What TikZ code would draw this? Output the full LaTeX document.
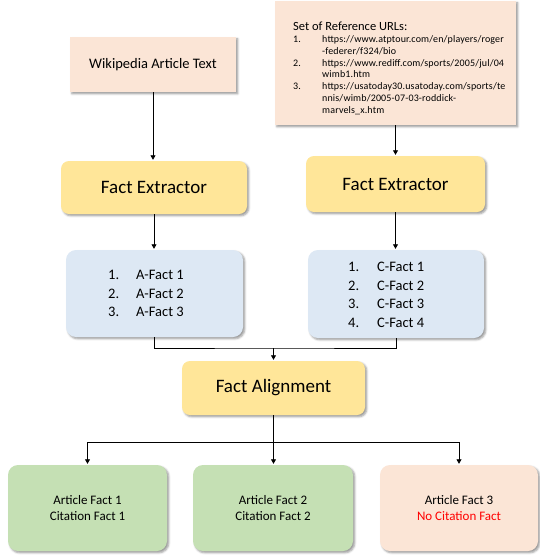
\documentclass[tikz,border=0pt]{standalone}
\usepackage{fontspec}
\setmainfont{Carlito}
\usetikzlibrary{arrows.meta,shadows.blur}

\definecolor{peach}{HTML}{FBE5D6}
\definecolor{butter}{HTML}{FFE699}
\definecolor{skyblue}{HTML}{DDE8F4}
\definecolor{sage}{HTML}{C5E0B4}
\definecolor{alertred}{HTML}{FF0000}

\tikzset{
  boxbase/.style={draw=none, inner sep=0pt, align=center,
    blur shadow={shadow xshift=1.8pt, shadow yshift=-1.8pt,
                 shadow blur radius=2pt, shadow opacity=40}},
  sourcebox/.style={boxbase, fill=peach},
  stagebox/.style={boxbase, fill=butter, rounded corners=8pt,
    font=\fontsize{19}{22}\selectfont},
  listbox/.style={boxbase, fill=skyblue, rounded corners=10pt},
  okbox/.style={boxbase, fill=sage, rounded corners=10pt,
    font=\fontsize{13}{15.5}\selectfont},
  missbox/.style={boxbase, fill=peach, rounded corners=10pt,
    font=\fontsize{13}{15.5}\selectfont},
  listtext/.style={inner sep=0pt, anchor=west, align=left,
    font=\fontsize{14.5}{18.5}\selectfont},
  link/.style={line width=0.8pt, draw=black},
  flow/.style={link, -{Triangle[length=4.5pt,width=5pt]}, shorten >=1pt},
}

\begin{document}
\begin{tikzpicture}[x=1pt, y=-1pt]
\useasboundingbox (0,0) rectangle (539,555);

% inputs
\node[sourcebox, minimum width=166pt, minimum height=55pt,
      font=\fontsize{14.5}{17}\selectfont] (wiki) at (153,64.5)
      {Wikipedia Article Text};
\node[sourcebox, minimum width=241pt, minimum height=124pt] (urls) at (395.5,63) {};
\node[inner sep=0pt, anchor=north west, align=left] (urllist) at (293,22)
  {\fontsize{10}{11.8}\selectfont\addfontfeatures{LetterSpace=1.5}%
   \begin{tabular}{@{}p{29pt}@{}l@{}}
   \multicolumn{2}{@{}l@{}}{\fontsize{12.5}{13}\selectfont\addfontfeatures{LetterSpace=0}Set of Reference URLs:}\\
   1. & https://www.atptour.com/en/players/roger\\
      & -federer/f324/bio\\
   2. & https://www.rediff.com/sports/2005/jul/04\\
      & wimb1.htm\\
   3. & https://usatoday30.usatoday.com/sports/te\\
      & nnis/wimb/2005-07-03-roddick-\\
      & marvels\_x.htm
   \end{tabular}};

% extraction stage
\node[stagebox, minimum width=186pt, minimum height=53pt] (fe1) at (154,187.5) {Fact Extractor};
\node[stagebox, minimum width=179pt, minimum height=56pt] (fe2) at (395.5,184) {Fact Extractor};

% extracted facts
\node[listbox, minimum width=177pt, minimum height=87pt] (alist) at (154.5,293.5) {};
\node[listtext] (atext) at (108,294.5)
  {\begin{tabular}{@{}p{28pt}@{}l@{}}
   1. & A-Fact 1\\ 2. & A-Fact 2\\ 3. & A-Fact 3
   \end{tabular}};
\node[listbox, minimum width=176pt, minimum height=88pt] (clist) at (396,294) {};
\node[listtext] (ctext) at (348,296)
  {\begin{tabular}{@{}p{29pt}@{}l@{}}
   1. & C-Fact 1\\ 2. & C-Fact 2\\ 3. & C-Fact 3\\ 4. & C-Fact 4
   \end{tabular}};

% alignment
\node[stagebox, minimum width=183pt, minimum height=54pt] (fa) at (273.5,388) {Fact Alignment};

% results
\node[okbox, minimum width=159pt, minimum height=86pt] (r1) at (87.5,508)
  {Article Fact 1\\Citation Fact 1};
\node[okbox, minimum width=160pt, minimum height=86pt] (r2) at (273,508)
  {Article Fact 2\\Citation Fact 2};
\node[missbox, minimum width=158pt, minimum height=86pt] (r3) at (459,508)
  {Article Fact 3\\\textcolor{alertred}{No Citation Fact}};

% connectors
\draw[flow] (wiki.south) -- (wiki.south |- fe1.north);
\draw[flow] (urls.south) -- (urls.south |- fe2.north);
\draw[flow] (fe1.south) -- (fe1.south |- alist.north);
\draw[flow] (fe2.south) -- (fe2.south |- clist.north);

\coordinate (join) at (273.5,348);
\draw[link] (alist.south) |- (join) -| (clist.south);
\draw[flow] (join) -- (fa.north);

\coordinate (split) at (273.5,442);
\draw[line width=1.8pt] (fa.south) -- (split);
\draw[flow] (split) -| (r1.north);
\draw[flow] (split) -- (split |- r2.north);
\draw[flow] (split) -| (r3.north);
\end{tikzpicture}
\end{document}
